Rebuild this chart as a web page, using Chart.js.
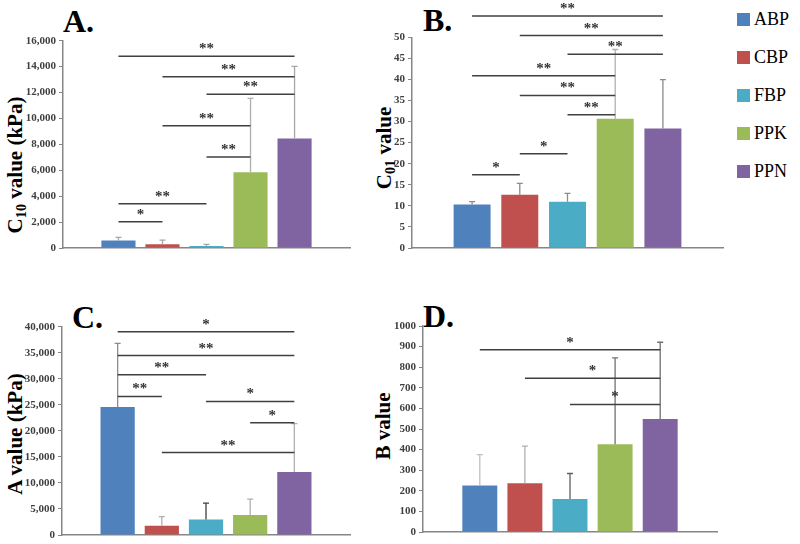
<!DOCTYPE html>
<html>
<head>
<meta charset="utf-8">
<script src="https://cdn.jsdelivr.net/npm/chart.js@4"></script>
<style>
body{margin:0;background:#fff;width:800px;height:544px;position:relative;overflow:hidden;font-family:"Liberation Serif",serif}
.panel{position:absolute}
.letter{position:absolute;font:bold 32px/1 "Liberation Serif",serif;color:#000}
.ytitle{position:absolute;font:bold 21px/1 "Liberation Serif",serif;white-space:nowrap;color:#000;transform:translate(-50%,-50%) rotate(-90deg)}
.ytitle sub{font-size:68%;vertical-align:-0.3em;line-height:0}
.item{position:absolute;left:737px;height:20px;white-space:nowrap;font:18px/20px "Liberation Serif",serif;color:#000}
.swatch{display:inline-block;width:13px;height:13px;margin-right:4px;vertical-align:-1px}
</style>
</head>
<body>
<div class="letter" style="left:63px;top:5px">A.</div>
<div class="letter" style="left:423px;top:4px">B.</div>
<div class="letter" style="left:72px;top:301px">C.</div>
<div class="letter" style="left:423px;top:300px">D.</div>
<div class="ytitle" style="left:15px;top:165px">C<sub>10</sub> value (kPa)</div>
<div class="ytitle" style="left:384px;top:148px">C<sub>01</sub> value</div>
<div class="ytitle" style="left:15px;top:434px">A value (kPa)</div>
<div class="ytitle" style="left:383px;top:426px">B value</div>
<div id="legend"></div>
<script>
const groups = ["ABP", "CBP", "FBP", "PPK", "PPN"];
const groupColors = ["#4f81bd", "#c0504d", "#4bacc6", "#9bbb59", "#8064a2"];

// A. C10 value (kPa)
const c10Values = [570, 283, 154, 5840, 8460];
const c10Errors = [250, 330, 130, 5710, 5560];
const c10Max = 16000, c10Step = 2000;
const c10Pairs = [[0, 4, 14800, "**"], [1, 4, 13220, "**"], [2, 4, 11860, "**"], [1, 3, 9440, "**"], [2, 3, 7020, "**"], [0, 2, 3420, "**"], [0, 1, 2030, "*"]];

// B. C01 value
const c01Values = [10.35, 12.64, 10.98, 30.7, 28.36];
const c01Errors = [0.65, 2.68, 1.97, 16.4, 11.6];
const c01Max = 50, c01Step = 5;
const c01Pairs = [[0, 4, 55.06, "**"], [1, 4, 50.4, "**"], [2, 4, 45.97, "**"], [0, 3, 40.9, "**"], [1, 3, 36.2, "**"], [2, 3, 31.6, "**"], [1, 2, 22.35, "*"], [0, 1, 17.38, "*"]];

// C. A value (kPa)
const aValues = [24560, 1800, 3000, 3830, 12100];
const aErrors = [12250, 1720, 3120, 3070, 9270];
const aMax = 40000, aStep = 5000;
const aPairs = [[0, 4, 39040, "*"], [0, 4, 34450, "**"], [0, 2, 30750, "**"], [0, 1, 26600, "**"], [2, 4, 25650, "*"], [3, 4, 21560, "*"], [1, 4, 15820, "**"]];

// D. B value
const bValues = [226, 237, 160, 426, 549];
const bErrors = [150, 180, 124, 419, 372];
const bMax = 1000, bStep = 100;
const bPairs = [[0, 4, 885, "*"], [1, 4, 746, "*"], [2, 4, 619, "*"]];

// legend
groups.forEach((g, i) => {
    const d = document.createElement("div");
    d.className = "item";
    d.style.top = (9 + i * 38) + "px";
    d.innerHTML = '<span class="swatch" style="background:' + groupColors[i] + '"></span>' + g;
    document.body.appendChild(d);
});

function drawPanel(box, values, errors, pairs, yMax, yStep, errColors, useComma) {
    const left = box.axisX - 60;
    const width = box.right + 8 - left;
    const height = box.plotBottom + 12 - box.top;
    const holder = document.createElement("div");
    holder.className = "panel";
    holder.style.left = left + "px";
    holder.style.top = box.top + "px";
    const cv = document.createElement("canvas");
    cv.width = width;
    cv.height = height;
    holder.appendChild(cv);
    document.body.appendChild(holder);

    const marks = {
        id: "marks",
        afterDatasetsDraw(chart) {
            const ctx = chart.ctx;
            const y = chart.scales.y;
            ctx.save();
            chart.data.datasets.forEach((ds, i) => {
                const bar = chart.getDatasetMeta(i).data[0];
                const top = y.getPixelForValue(ds.data[0] + errors[i]);
                ctx.strokeStyle = errColors[i];
                ctx.lineWidth = 1.3;
                ctx.beginPath();
                ctx.moveTo(bar.x, bar.y);
                ctx.lineTo(bar.x, top);
                ctx.moveTo(bar.x - 3, top);
                ctx.lineTo(bar.x + 3, top);
                ctx.stroke();
            });
            pairs.forEach(p => {
                const xa = chart.getDatasetMeta(p[0]).data[0].x;
                const xb = chart.getDatasetMeta(p[1]).data[0].x;
                const yy = y.getPixelForValue(p[2]);
                ctx.strokeStyle = "#404040";
                ctx.lineWidth = 1.5;
                ctx.beginPath();
                ctx.moveTo(xa, yy);
                ctx.lineTo(xb, yy);
                ctx.stroke();
                ctx.fillStyle = "#333";
                ctx.font = "bold 15px 'Liberation Serif'";
                ctx.textAlign = "center";
                ctx.textBaseline = "alphabetic";
                ctx.fillText(p[3], (xa + xb) / 2, yy - 3);
            });
            ctx.restore();
        }
    };

    new Chart(cv, {
        type: "bar",
        data: {
            labels: [""],
            datasets: groups.map((g, i) => ({
                label: g,
                data: [values[i]],
                backgroundColor: groupColors[i],
                borderWidth: 0
            }))
        },
        options: {
            responsive: false,
            animation: false,
            devicePixelRatio: 1,
            categoryPercentage: 0.767,
            barPercentage: 0.775,
            layout: {padding: {top: box.plotTop - box.top, right: 8, bottom: 12, left: 0}},
            plugins: {legend: {display: false}, tooltip: {enabled: false}},
            scales: {
                x: {
                    grid: {display: false, drawTicks: false},
                    ticks: {display: false},
                    border: {color: "#868686", width: 1.5},
                    afterFit(s) { s.height = 0; }
                },
                y: {
                    min: 0,
                    max: yMax,
                    ticks: {
                        stepSize: yStep,
                        padding: 3,
                        color: "#404040",
                        font: {family: "Liberation Serif", size: 11, weight: "bold"},
                        callback: v => useComma ? v.toLocaleString("en-US") : String(v)
                    },
                    grid: {display: true, drawOnChartArea: false, drawTicks: true, tickLength: 4, color: "#868686"},
                    border: {color: "#868686", width: 1.5},
                    afterFit(s) { s.width = 60; }
                }
            }
        },
        plugins: [marks]
    });
}

drawPanel({axisX: 63, right: 350, top: 0, plotTop: 40.7, plotBottom: 248},
    c10Values, c10Errors, c10Pairs, c10Max, c10Step,
    ["#a6a6a6", "#a6a6a6", "#a6a6a6", "#b0b0b0", "#a6a6a6"], true);
drawPanel({axisX: 412, right: 723, top: 0, plotTop: 37.3, plotBottom: 248.3},
    c01Values, c01Errors, c01Pairs, c01Max, c01Step,
    ["#8c8c8c", "#8c8c8c", "#8c8c8c", "#b0b0b0", "#8c8c8c"], false);
drawPanel({axisX: 62, right: 350, top: 290, plotTop: 326.7, plotBottom: 535.7},
    aValues, aErrors, aPairs, aMax, aStep,
    ["#8c8c8c", "#b0b0b0", "#404040", "#b0b0b0", "#b0b0b0"], true);
drawPanel({axisX: 423, right: 717, top: 290, plotTop: 326, plotBottom: 532.3},
    bValues, bErrors, bPairs, bMax, bStep,
    ["#c0c0c0", "#b0b0b0", "#606060", "#707070", "#707070"], false);
</script>
</body>
</html>
